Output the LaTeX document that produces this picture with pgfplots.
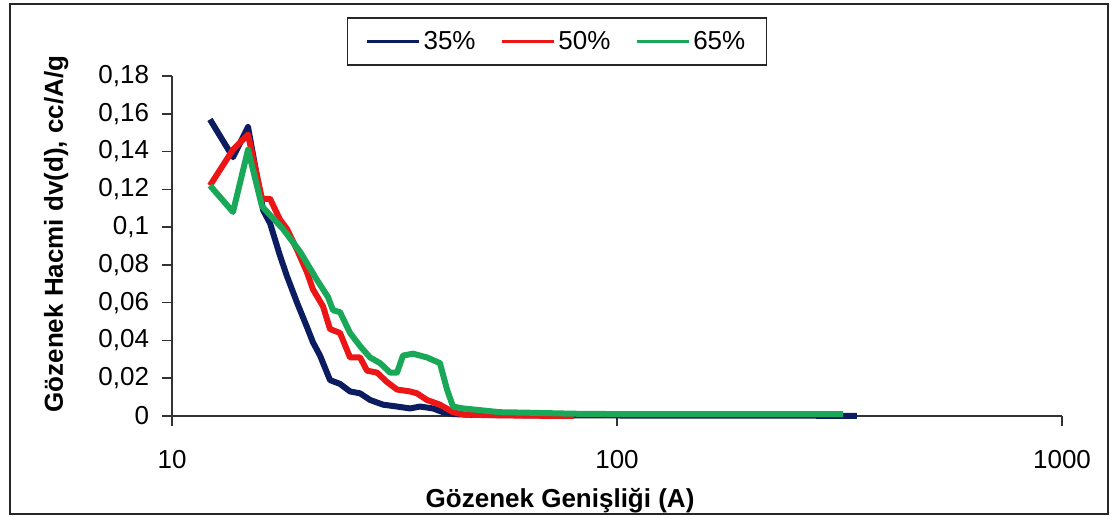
\documentclass[border=0pt]{standalone}
\usepackage{pgfplots}
\pgfplotsset{compat=1.18}
\usepackage{fontspec}
\setmainfont{Liberation Sans}

\definecolor{navyline}{RGB}{12,28,96}
\definecolor{redline}{RGB}{236,22,22}
\definecolor{greenline}{RGB}{24,168,88}
\newcommand\chartfont{\fontsize{13}{15.6}\selectfont}

\begin{document}
\begin{tikzpicture}
% page and outer chart frame
\useasboundingbox (0,0) rectangle (555.5pt,258.5pt);
\draw[line width=1pt, black!85] (5pt,1.5pt) rectangle (554pt,256.5pt);
\begin{axis}[
  at={(86pt,50.5pt)}, anchor=south west,
  scale only axis, width=445pt, height=170pt,
  xmode=log, xmin=10, xmax=1000, ymin=0, ymax=0.18,
  axis x line=bottom, axis y line=left,
  axis line style={-, line width=0.8pt, black!80},
  tick style={line width=0.8pt, black!80},
  tick align=outside, major tick length=5pt,
  xtick={10,100,1000}, xticklabels={10,100,1000}, xminorticks=false,
  ytick={0,0.02,0.04,0.06,0.08,0.1,0.12,0.14,0.16,0.18},
  yminorticks=false,
  /pgf/number format/assume math mode=true,
  yticklabel style={/pgf/number format/.cd, fixed, use comma, precision=2,
    /tikz/.cd, font=\chartfont, xshift=-3pt},
  xticklabel style={font=\chartfont, yshift=-8.5pt},
  xlabel={Gözenek Genişliği (A)},
  xlabel style={font=\chartfont\bfseries, at={(axis description cs:0.436,0)}, anchor=base, yshift=-46pt},
  ylabel={Gözenek Hacmi dv(d), cc/A/g},
  ylabel style={font=\chartfont\bfseries, at={(axis description cs:-0.130,0.535)}, anchor=center},
  clip=false,
  legend columns=3,
  legend style={at={(axis description cs:0.4326,1.1015)}, anchor=center,
    draw=black!85, line width=0.6pt, font=\chartfont,
    inner xsep=9pt, inner ysep=5pt,
    nodes={inner sep=1.5pt},
    /tikz/every even column/.append style={column sep=11pt}},
  legend image code/.code={\draw[#1, line width=1.4pt] (0pt,0pt) -- (26pt,0pt);},
]
\addplot[navyline, line width=3pt, line join=round] coordinates {
(12.17,0.157) (13.71,0.137) (14.82,0.153) (16.02,0.109) (16.61,0.102)
(17.48,0.085) (18.13,0.074) (19.10,0.060) (20.11,0.047) (20.74,0.039)
(21.51,0.032) (22.65,0.019) (23.85,0.017) (25.12,0.013) (26.46,0.012)
(27.86,0.0085) (29.80,0.006) (32.04,0.005) (34.26,0.004) (36.09,0.005)
(38.60,0.004) (40.64,0.002) (42.81,0.001) (47.48,0.0006) (60.5,0.0004)
(80,0.0003) (150,0.0002) (250,0.0002) (346,0.0)
};
\addlegendentry{35\%}
\addplot[redline, line width=3pt, line join=round] coordinates {
(12.17,0.122) (13.71,0.141) (14.82,0.149) (15.93,0.115) (16.61,0.115)
(17.48,0.104) (18.13,0.099) (19.10,0.088) (20.11,0.076) (20.74,0.067)
(21.85,0.058) (22.65,0.046) (23.85,0.044) (25.12,0.031) (26.46,0.031)
(27.43,0.024) (28.88,0.023) (30.42,0.018) (32.04,0.014) (34.26,0.013)
(35.53,0.012) (37.4,0.0085) (40.0,0.006) (42.81,0.002) (45.1,0.0008)
(50,0.0005) (61,0.0002) (80,0.0)
};
\addlegendentry{50\%}
\addplot[greenline, line width=3pt, line join=round] coordinates {
(12.17,0.122) (13.71,0.108) (14.82,0.141) (15.93,0.111) (17.76,0.099)
(19.40,0.087) (21.18,0.072) (22.41,0.063) (23.0,0.056) (23.85,0.055)
(25.12,0.044) (26.46,0.037) (27.86,0.031) (29.34,0.028) (30.9,0.023)
(32.04,0.023) (33.05,0.032) (34.8,0.033) (37.4,0.031) (40.0,0.028)
(41.5,0.014) (42.8,0.005) (45.1,0.004) (54.6,0.002) (61.5,0.0018)
(80,0.0012) (100,0.001) (200,0.001) (322,0.001)
};
\addlegendentry{65\%}
\end{axis}
\end{tikzpicture}
\end{document}
